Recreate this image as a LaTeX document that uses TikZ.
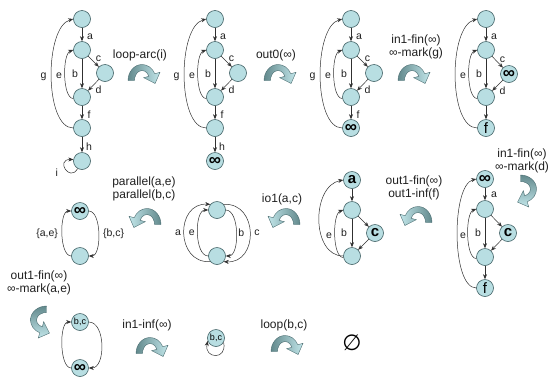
\documentclass[tikz,border=0pt]{standalone}
\usepackage{fontspec}
\setmainfont{Liberation Sans}
\newfontfamily\symfont{DejaVu Sans}
\usetikzlibrary{arrows.meta}
\definecolor{nodefill}{HTML}{B8DEE2}
\definecolor{nodeedge}{HTML}{3F5F63}
\definecolor{edgecol}{HTML}{303030}
\definecolor{txtcol}{HTML}{202020}
\definecolor{arrdark}{HTML}{62898C}
\definecolor{arrlight}{HTML}{C2E6EA}
\definecolor{arrline}{HTML}{4A6C70}
\tikzset{
  vtx/.style={circle, draw=nodeedge, fill=nodefill, line width=0.6pt, minimum size=17pt, inner sep=0pt, text=black},
  conn/.style={draw=edgecol, line width=0.5pt, -{Stealth[length=5pt,width=4pt]}},
  elab/.style={font=\fontsize{10.5}{11}\selectfont, inner sep=0pt, text=txtcol},
  caption/.style={font=\fontsize{12}{13.5}\selectfont, align=center, inner sep=0pt, text=txtcol},
  inflab/.style={font=\fontsize{17}{17}\selectfont\bfseries},
  boldlab/.style={font=\fontsize{15}{15}\selectfont\bfseries},
  flab/.style={font=\fontsize{15}{15}\selectfont},
  bclab/.style={font=\fontsize{9}{9}\selectfont},
}
\newcommand{\turnarrow}[2]{%
  \begin{scope}[#1]
    \shadedraw[#2, draw=arrline, line width=0.4pt]
      (-14,-8) arc[start angle=180, end angle=25, x radius=13, y radius=16]
      -- (15.59,0.2) -- (11.1,-10.97) -- (0.53,-5.2) -- (5.34,-3.77)
      arc[start angle=25, end angle=180, x radius=7, y radius=10] -- cycle;
  \end{scope}}
\begin{document}
\begin{tikzpicture}[x=1pt,y=1pt]
\useasboundingbox[fill=white] (0,0) rectangle (555,-376);

% ---------- Graph 1 ----------
\node[vtx] (a1) at (82,-19) {};
\node[vtx] (b1) at (82,-50) {};
\node[vtx] (c1) at (105,-73) {};
\node[vtx] (d1) at (82,-97) {};
\node[vtx] (e1) at (82,-128) {};
\node[vtx] (f1) at (82,-161) {};
\draw[conn] (a1) -- (b1) node[elab,midway,xshift=8pt,yshift=-2pt] {a};
\draw[conn] (b1) -- (c1) node[elab,midway,xshift=5pt,yshift=2.5pt] {c};
\draw[conn] (c1) -- (d1) node[elab,midway,xshift=5pt,yshift=-5pt] {d};
\draw[conn] (b1) -- (d1) node[elab,midway,xshift=-7pt] {b};
\draw[conn] (d1.190) .. controls +(-11,0) and +(-11,-4) .. (b1.180) node[elab,pos=0.5,xshift=-6pt] {e};
\draw[conn] (e1.180) .. controls +(-29,0) and +(-29,-8) .. (a1.180) node[elab,pos=0.5,xshift=-8pt] {g};
\draw[conn] (d1) -- (e1) node[elab,midway,xshift=7pt,yshift=-2pt] {f};
\draw[conn] (e1) -- (f1) node[elab,midway,xshift=7pt,yshift=-2pt] {h};
\draw[conn] (f1.240) .. controls +(-8,-14) and +(-18,0) .. (f1.170) node[elab,pos=0.5,xshift=-9pt,yshift=-3pt] {i};

\node[caption] (t1) at (140,-55) {loop-arc(i)};
\turnarrow{shift={(144,-74)},xscale=1.08,shift={(-0.8,1.5)}}{left color=arrdark,right color=arrlight}

% ---------- Graph 2 ----------
\node[vtx] (a2) at (215,-19) {};
\node[vtx] (b2) at (215,-50) {};
\node[vtx] (c2) at (238,-73) {};
\node[vtx] (d2) at (215,-97) {};
\node[vtx] (e2) at (215,-128) {};
\node[vtx,inflab] (f2) at (215,-161) {∞};
\draw[conn] (a2) -- (b2) node[elab,midway,xshift=8pt,yshift=-2pt] {a};
\draw[conn] (b2) -- (c2) node[elab,midway,xshift=5pt,yshift=2.5pt] {c};
\draw[conn] (c2) -- (d2) node[elab,midway,xshift=5pt,yshift=-5pt] {d};
\draw[conn] (b2) -- (d2) node[elab,midway,xshift=-7pt] {b};
\draw[conn] (d2.190) .. controls +(-11,0) and +(-11,-4) .. (b2.180) node[elab,pos=0.5,xshift=-6pt] {e};
\draw[conn] (e2.180) .. controls +(-29,0) and +(-29,-8) .. (a2.180) node[elab,pos=0.5,xshift=-8pt] {g};
\draw[conn] (d2) -- (e2) node[elab,midway,xshift=7pt,yshift=-2pt] {f};
\draw[conn] (e2) -- (f2) node[elab,midway,xshift=7pt,yshift=-2pt] {h};

\node[caption] (t2) at (276,-55) {out0(∞)};
\turnarrow{shift={(280,-74)},xscale=1.08,shift={(-0.8,1.5)}}{left color=arrdark,right color=arrlight}

% ---------- Graph 3 ----------
\node[vtx] (a3) at (351,-19) {};
\node[vtx] (b3) at (351,-50) {};
\node[vtx] (c3) at (374,-73) {};
\node[vtx] (d3) at (351,-97) {};
\node[vtx,inflab] (e3) at (351,-128) {∞};
\draw[conn] (a3) -- (b3) node[elab,midway,xshift=8pt,yshift=-2pt] {a};
\draw[conn] (b3) -- (c3) node[elab,midway,xshift=5pt,yshift=2.5pt] {c};
\draw[conn] (c3) -- (d3) node[elab,midway,xshift=5pt,yshift=-5pt] {d};
\draw[conn] (b3) -- (d3) node[elab,midway,xshift=-7pt] {b};
\draw[conn] (d3.190) .. controls +(-11,0) and +(-11,-4) .. (b3.180) node[elab,pos=0.5,xshift=-6pt] {e};
\draw[conn] (e3.180) .. controls +(-29,0) and +(-29,-8) .. (a3.180) node[elab,pos=0.5,xshift=-8pt] {g};
\draw[conn] (d3) -- (e3) node[elab,midway,xshift=7pt,yshift=-2pt] {f};

\node[caption] (t3) at (416,-47) {in1-fin(∞)\\∞-mark(g)};
\turnarrow{shift={(414,-74)},xscale=1.08,shift={(-0.8,1.5)}}{left color=arrdark,right color=arrlight}

% ---------- Graph 4 ----------
\node[vtx] (a4) at (486,-19) {};
\node[vtx] (b4) at (486,-50) {};
\node[vtx,inflab] (c4) at (509,-74) {∞};
\node[vtx] (d4) at (486,-97) {};
\node[vtx,flab] (e4) at (486,-128) {f};
\draw[conn] (a4) -- (b4) node[elab,midway,xshift=8pt,yshift=-2pt] {a};
\draw[conn] (b4) -- (c4) node[elab,midway,xshift=5pt,yshift=2.5pt] {c};
\draw[conn] (c4) -- (d4) node[elab,midway,xshift=5pt,yshift=-5pt] {d};
\draw[conn] (b4) -- (d4) node[elab,midway,xshift=-7pt] {b};
\draw[conn] (d4.190) .. controls +(-11,0) and +(-11,-4) .. (b4.180) node[elab,pos=0.5,xshift=-6pt] {e};
\draw[conn] (e4.180) .. controls +(-29,0) and +(-29,-8) .. (a4.180);
\draw[conn] (d4) -- (e4);

\node[caption] (t4) at (522,-161) {in1-fin(∞)\\∞-mark(d)};
\turnarrow{shift={(527,-191)},rotate=-90,xscale=1.08,shift={(-0.8,1.5)}}{top color=arrdark,bottom color=arrlight}

% ---------- Graph 8 ----------
\node[vtx,inflab] (a8) at (485,-179) {∞};
\node[vtx] (b8) at (485,-209) {};
\node[vtx,boldlab] (c8) at (508,-233) {c};
\node[vtx] (d8) at (485,-257) {};
\node[vtx,flab] (e8) at (485,-288) {f};
\draw[conn] (a8) -- (b8) node[elab,midway,xshift=9pt,yshift=-1pt] {a};
\draw[conn] (b8) -- (c8);
\draw[conn] (c8) -- (d8);
\draw[conn] (b8) -- (d8) node[elab,midway,xshift=-7pt] {b};
\draw[conn] (d8.190) .. controls +(-11,0) and +(-11,-4) .. (b8.180) node[elab,pos=0.5,xshift=-5pt] {e};
\draw[conn] (e8.180) .. controls +(-25,0) and +(-25,-6) .. (a8.180);
\draw[conn] (d8) -- (e8);

\node[caption] (t8) at (414,-188) {out1-fin(∞)\\out1-inf(f)};
\turnarrow{shift={(416,-216)},xscale=-1.08,shift={(-0.8,1.5)}}{left color=arrlight,right color=arrdark}

% ---------- Graph 7 ----------
\node[vtx,boldlab] (a7) at (352,-180) {a};
\node[vtx] (b7) at (352,-210) {};
\node[vtx,boldlab] (c7) at (375,-233) {c};
\node[vtx] (d7) at (352,-256) {};
\draw[conn] (a7) -- (b7);
\draw[conn] (b7) -- (c7);
\draw[conn] (c7) -- (d7);
\draw[conn] (b7) -- (d7) node[elab,midway,xshift=-8pt] {b};
\draw[conn] (d7.190) .. controls +(-11,0) and +(-11,-4) .. (b7.180) node[elab,pos=0.5,xshift=-6pt] {e};
\draw[conn] (d7.180) .. controls +(-32,0) and +(-32,-6) .. (a7.180);

\node[caption] (t7) at (282,-199) {io1(a,c)};
\turnarrow{shift={(284,-218)},xscale=-1.08,shift={(-0.8,1.5)}}{left color=arrlight,right color=arrdark}

% ---------- Graph 6 ----------
\node[vtx] (t6) at (217,-210) {};
\node[vtx] (u6) at (217,-256) {};
\draw[conn] (u6.180) .. controls +(-14,0) and +(-14,0) .. (t6.180) node[elab,pos=0.5,xshift=-6pt] {e};
\draw[conn] (u6.220) .. controls +(-35,-2) and +(-35,2) .. (t6.140) node[elab,pos=0.5,xshift=-6pt] {a};
\draw[conn] (t6.0) .. controls +(14,0) and +(14,0) .. (u6.0) node[elab,pos=0.5,xshift=5pt] {b};
\draw[conn] (t6.40) .. controls +(35,2) and +(35,-2) .. (u6.-40) node[elab,pos=0.5,xshift=7pt] {c};

\node[caption] (t5c) at (144,-189) {parallel(a,e)\\parallel(b,c)};
\turnarrow{shift={(145,-218)},xscale=-1.08,shift={(-0.8,1.5)}}{left color=arrlight,right color=arrdark}

% ---------- Graph 5 ----------
\node[vtx,inflab] (t5) at (80,-211) {∞};
\node[vtx] (u5) at (80,-256) {};
\draw[conn] (u5.180) .. controls +(-12,0) and +(-12,0) .. (t5.180) node[elab,pos=0.5,xshift=-15pt] {\{a,e\}};
\draw[conn] (t5.0) .. controls +(13,0) and +(13,0) .. (u5.0) node[elab,pos=0.5,xshift=15pt] {\{b,c\}};

\node[caption] (t9c) at (39,-283) {out1-fin(∞)\\∞-mark(a,e)};
\turnarrow{shift={(40,-322)},rotate=90,xscale=-1.08,shift={(-0.8,1.5)}}{top color=arrdark,bottom color=arrlight}

% ---------- Graph 9 ----------
\node[vtx,bclab] (t9) at (80,-322) {b,c};
\node[vtx,inflab] (u9) at (80,-368) {∞};
\draw[conn] (u9.180) .. controls +(-12,0) and +(-12,0) .. (t9.180);
\draw[conn] (t9.0) .. controls +(17,0) and +(17,0) .. (u9.0);

\node[caption] (t10c) at (147,-325) {in1-inf(∞)};
\turnarrow{shift={(152,-347)},xscale=1.08,shift={(-0.8,1.5)}}{left color=arrdark,right color=arrlight}

% ---------- Graph 10 ----------
\node[vtx,bclab] (n10) at (216,-338) {b,c};
\draw[conn] (n10.330) .. controls +(4,-18) and +(-4,-18) .. (n10.200);

\node[caption] (t11c) at (284,-325) {loop(b,c)};
\turnarrow{shift={(287,-345)},xscale=1.08,shift={(-0.8,1.5)}}{left color=arrdark,right color=arrlight}

\node[font=\fontsize{22}{22}\selectfont\symfont, inner sep=0pt, text=black] (empty) at (352,-343) {∅};
\end{tikzpicture}
\end{document}
